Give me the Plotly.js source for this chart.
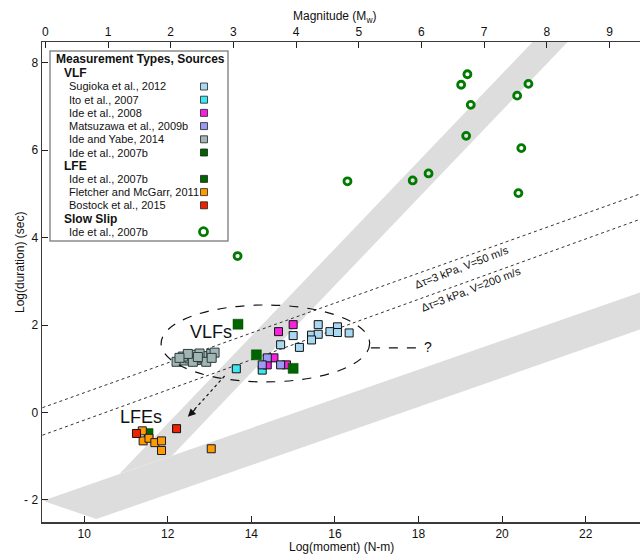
<!DOCTYPE html>
<html>
<head>
<meta charset="utf-8">
<script src="https://cdn.plot.ly/plotly-3.0.1.min.js"></script>
<style>
  html, body { margin: 0; padding: 0; background: #ffffff; }
  #chart { width: 640px; height: 556px; }
</style>
</head>
<body>
<div id="chart"></div>
<script>
// ---- VLF catalogues: log10 seismic moment (N-m) vs log10 duration (s) ----
const sugiokaMoment   = [15.60, 16.06, 15.00, 15.44, 15.60, 15.88, 16.06, 16.34, 15.44, 14.70, 15.15];
const sugiokaDuration = [2.01, 1.96, 1.76, 1.77, 1.79, 1.85, 1.83, 1.82, 1.66, 1.55, 1.49];

const itoMoment   = [13.64, 14.26];
const itoDuration = [1.00, 0.97];

const ide2008Moment   = [15.00, 14.65, 14.54, 14.38, 14.84];
const ide2008Duration = [2.01, 1.85, 1.25, 1.09, 1.09];

const matsuzawaMoment   = [14.38, 14.26, 14.70];
const matsuzawaDuration = [1.25, 1.09, 1.09];

const ideYabeMoment   = [12.21, 12.40, 12.52, 12.64, 12.68, 12.80, 12.88, 12.96, 13.04, 13.12,
                         12.60, 12.36, 12.76, 12.92, 12.48, 12.28, 12.72, 13.05];
const ideYabeDuration = [1.16, 1.19, 1.24, 1.32, 1.20, 1.24, 1.28, 1.29, 1.34, 1.37,
                         1.16, 1.28, 1.35, 1.16, 1.34, 1.25, 1.27, 1.25];

const ide2007bVlfMoment   = [13.68, 14.12, 15.00];
const ide2007bVlfDuration = [2.02, 1.32, 1.01];

// ---- LFE catalogues ----
const ide2007bLfeMoment   = [11.54];
const ide2007bLfeDuration = [-0.47];

const fletcherMoment   = [11.39, 11.41, 11.55, 11.69, 11.85, 11.85, 13.04];
const fletcherDuration = [-0.42, -0.65, -0.59, -0.69, -0.65, -0.87, -0.83];

const bostockMoment   = [11.25, 12.21];
const bostockDuration = [-0.48, -0.37];

// ---- Slow slip events ----
const slowSlipMoment   = [13.67, 16.30, 17.86, 18.24, 19.02, 19.17, 19.25, 19.14, 20.36, 20.63, 20.46, 20.39];
const slowSlipDuration = [3.58, 5.29, 5.31, 5.47, 7.50, 7.74, 7.04, 6.33, 7.25, 7.52, 6.05, 5.02];

// ---- Constant stress-drop reference lines (end points) ----
const refLineMoment      = [9.0, 23.3];
const refLine50Duration  = [0.11, 5.00];
const refLine200Duration = [-0.52, 4.42];
const refLine50Label  = 'Δτ=3 kPa, V=50 m/s';
const refLine200Label = 'Δτ=3 kPa, V=200 m/s';

// ---- Scaling bands (corner points) ----
const steepBandMoment   = [10.84, 12.10, 22.09, 21.25];
const steepBandDuration = [-1.41, -0.99, 9.00, 9.00];
const flatBandMoment    = [9.01, 10.29, 24.00, 24.00];
const flatBandDuration  = [-2.02, -2.44, 2.13, 2.98];

// ---- Axis ticks ----
const momentTicks = [10, 12, 14, 16, 18, 20, 22];
const durationTicks = [-2, 0, 2, 4, 6, 8];
const durationTickText = ['- 2', '0', '2', '4', '6', '8'];
const magnitudeTicks = [0, 1, 2, 3, 4, 5, 6, 7, 8, 9];
const MW_OFFSET = 9.07;   // Mw = 2/3 (log M0 - offset)

// ---- Legend content ----
const legendTitle = 'Measurement Types, Sources';
const legendText  = ['VLF', 'Sugioka et al., 2012', 'Ito et al., 2007', 'Ide et al., 2008',
                     'Matsuzawa et al., 2009b', 'Ide and Yabe, 2014', 'Ide et al., 2007b',
                     'LFE', 'Ide et al., 2007b', 'Fletcher and McGarr, 2011', 'Bostock et al., 2015',
                     'Slow Slip', 'Ide et al., 2007b'];
const legendKind  = ['head', 'item', 'item', 'item', 'item', 'item', 'item',
                     'head', 'item', 'item', 'item', 'head', 'ring'];

// colours
const C = {
  sugioka: '#a9d9f2', ito: '#3fe6f2', ide2008: '#f522dc', matsuzawa: '#9b9bf4',
  ideYabe: '#a2b5b5', darkGreen: '#006400', fletcher: '#ff9a00', bostock: '#ee2200',
  slowSlip: '#007a00', band: '#dddddd'
};
const legendSwatch = [null, C.sugioka, C.ito, C.ide2008, C.matsuzawa, C.ideYabe, C.darkGreen,
                      null, C.darkGreen, C.fletcher, C.bostock, null, C.slowSlip];

const FONT = 'Liberation Sans, Arial, Helvetica, sans-serif';

// plot-area geometry in pixels (for paper-anchored decorations)
const W = 640, H = 556, ML = 42, MR = 0, MT = 42, MB = 34;
const px2x = p => (p - ML) / (W - ML - MR);
const py2y = p => (H - MB - p) / (H - MT - MB);

const X_RANGE = [8.99, 23.3];
const Y_RANGE = [-2.506, 8.478];

function squares(x, y, color, size, edge, edgeWidth) {
  return {
    type: 'scatter', mode: 'markers', x: x, y: y, xaxis: 'x', yaxis: 'y',
    hoverinfo: 'skip', showlegend: false,
    marker: { symbol: 'square', size: size, color: color,
              line: { color: edge, width: edgeWidth } }
  };
}

function refLine(y) {
  return {
    type: 'scatter', mode: 'lines', x: refLineMoment, y: y, showlegend: false,
    hoverinfo: 'skip', line: { color: '#333333', width: 1, dash: 'dot' }
  };
}

function polygonPath(xs, ys) {
  return 'M ' + xs.map((v, i) => v + ',' + ys[i]).join(' L ') + ' Z';
}

// centred text helper
function label(xref, yref, x, y, text, size, extra) {
  return Object.assign({
    xref: xref, yref: yref, x: x, y: y, text: text, showarrow: false,
    xanchor: 'center', yanchor: 'middle',
    font: { family: FONT, size: size, color: '#111111' }
  }, extra || {});
}

const traces = [
  refLine(refLine50Duration),
  refLine(refLine200Duration),
  squares(sugiokaMoment, sugiokaDuration, C.sugioka, 8, '#111111', 1),
  squares(itoMoment, itoDuration, C.ito, 8, '#111111', 1),
  squares(ide2008Moment, ide2008Duration, C.ide2008, 8, '#111111', 1),
  squares(matsuzawaMoment, matsuzawaDuration, C.matsuzawa, 8, '#111111', 1),
  squares(ideYabeMoment, ideYabeDuration, C.ideYabe, 9, '#2d3b3b', 1),
  squares(ide2007bVlfMoment, ide2007bVlfDuration, C.darkGreen, 10, '#004a00', 0.5),
  squares(ide2007bLfeMoment, ide2007bLfeDuration, C.darkGreen, 9, '#004a00', 0.5),
  squares(fletcherMoment, fletcherDuration, C.fletcher, 8, '#1a1a2a', 1),
  squares(bostockMoment, bostockDuration, C.bostock, 8, '#111111', 1),
  {
    type: 'scatter', mode: 'markers', x: slowSlipMoment, y: slowSlipDuration,
    showlegend: false, hoverinfo: 'skip',
    marker: { symbol: 'circle-open', size: 7, color: C.slowSlip,
              line: { color: C.slowSlip, width: 2.8 } }
  },
  // carries the magnitude axis along the top
  { type: 'scatter', mode: 'markers', x: [], y: [], xaxis: 'x2', yaxis: 'y',
    showlegend: false, hoverinfo: 'skip' }
];

const shapes = [
  { type: 'path', xref: 'x', yref: 'y', layer: 'below',
    path: polygonPath(flatBandMoment, flatBandDuration),
    fillcolor: C.band, line: { width: 0 } },
  { type: 'path', xref: 'x', yref: 'y', layer: 'below',
    path: polygonPath(steepBandMoment, steepBandDuration),
    fillcolor: C.band, line: { width: 0 } },
  // VLF grouping ellipse
  { type: 'circle', xref: 'x', yref: 'y', x0: 11.84, x1: 16.83, y0: 0.70, y1: 2.46,
    line: { color: '#111111', width: 1.2, dash: 'dash' } },
  // lead line to the question mark
  { type: 'line', xref: 'x', yref: 'y', x0: 16.86, x1: 17.95, y0: 1.48, y1: 1.48,
    line: { color: '#111111', width: 1.2, dash: 'dash' } },
  // dotted arrow shaft from VLFs toward LFEs
  { type: 'line', xref: 'x', yref: 'y', x0: 13.36, y0: 0.835, x1: 12.62, y1: 0.05,
    line: { color: '#111111', width: 1.2, dash: 'dot' } },
  // legend frame
  { type: 'rect', xref: 'paper', yref: 'paper', layer: 'above',
    x0: px2x(50), x1: px2x(228), y0: py2y(241), y1: py2y(51),
    fillcolor: '#ffffff', line: { color: '#8c8c8c', width: 1.5 } }
];

const annotations = [
  label('x', 'y', 13.04, 1.85, 'VLFs', 18),
  label('x', 'y', 11.35, -0.10, 'LFEs', 18),
  label('x', 'y', 18.22, 1.50, '?', 14),
  { xref: 'x', yref: 'y', x: 12.48, y: -0.096, text: '', showarrow: true,
    ax: 9, ay: -9, arrowhead: 2, arrowsize: 1.3, arrowwidth: 1.2, arrowcolor: '#111111' },
  label('x', 'y', 19.04, 3.32, refLine50Label, 11, { textangle: -21 }),
  label('x', 'y', 19.26, 2.83, refLine200Label, 11, { textangle: -21 }),
  // axis titles
  label('paper', 'paper', px2x(334), py2y(17), 'Magnitude (M<sub>w</sub>)', 12),
  label('paper', 'paper', px2x(341), py2y(547), 'Log(moment) (N-m)', 12),
  label('paper', 'paper', px2x(20), py2y(263), 'Log(duration) (sec)', 12, { textangle: -90 }),
  // legend title
  label('paper', 'paper', px2x(54), py2y(59), '<b>' + legendTitle + '</b>', 12, { xanchor: 'left' })
];

// legend rows
const legendTop = 73.3, legendStep = 13.2;
legendText.forEach((t, i) => {
  const yPx = legendTop + i * legendStep;
  const head = legendKind[i] === 'head';
  annotations.push(label('paper', 'paper', px2x(head ? 61.5 : 67.3), py2y(yPx),
    head ? '<b>' + t + '</b>' : t, head ? 12 : 11, { xanchor: 'left' }));
  if (legendKind[i] === 'item') {
    shapes.push({ type: 'rect', xref: 'paper', yref: 'paper', layer: 'above',
      x0: px2x(200.5), x1: px2x(207.5), y0: py2y(yPx + 3.5), y1: py2y(yPx - 3.5),
      fillcolor: legendSwatch[i], line: { color: '#222222', width: 0.8 } });
  } else if (legendKind[i] === 'ring') {
    shapes.push({ type: 'circle', xref: 'paper', yref: 'paper', layer: 'above',
      x0: px2x(199.5), x1: px2x(207.5), y0: py2y(yPx + 4), y1: py2y(yPx - 4),
      line: { color: legendSwatch[i], width: 2.8 } });
  }
});

const axisCommon = {
  showgrid: false, zeroline: false, showline: true, linecolor: '#3a3a3a', linewidth: 1.5,
  ticks: 'inside', ticklen: 6, tickwidth: 1, tickcolor: '#222222',
  tickfont: { family: FONT, size: 12, color: '#111111' }
};

const layout = {
  width: W, height: H,
  margin: { l: ML, r: MR, t: MT, b: MB, pad: 0 },
  paper_bgcolor: '#ffffff', plot_bgcolor: '#ffffff',
  showlegend: false,
  font: { family: FONT, color: '#111111' },
  xaxis: Object.assign({}, axisCommon, {
    range: X_RANGE, tickmode: 'array', tickvals: momentTicks
  }),
  xaxis2: Object.assign({}, axisCommon, {
    overlaying: 'x', side: 'top', anchor: 'y',
    range: X_RANGE.map(v => (v - MW_OFFSET) * 2 / 3),
    tickmode: 'array', tickvals: magnitudeTicks
  }),
  yaxis: Object.assign({}, axisCommon, {
    range: Y_RANGE, tickmode: 'array', tickvals: durationTicks, ticktext: durationTickText
  }),
  shapes: shapes,
  annotations: annotations
};

Plotly.newPlot('chart', traces, layout, { staticPlot: true, displayModeBar: false });
</script>
</body>
</html>
